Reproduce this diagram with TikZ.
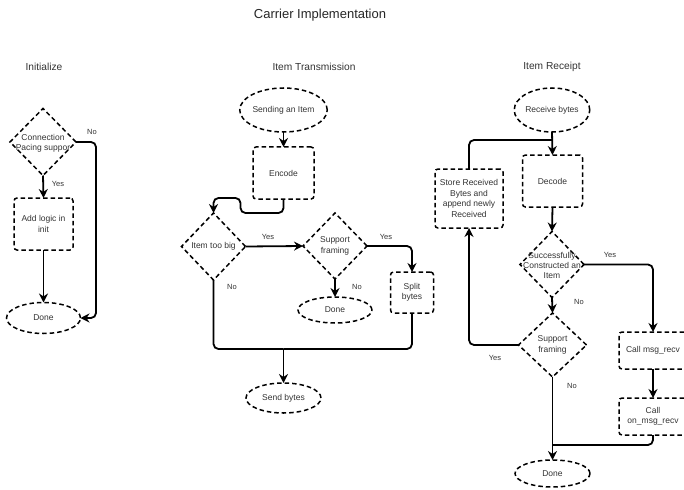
\documentclass[tikz,border=0pt]{standalone}
\usepackage{fontspec}
\setmainfont{Liberation Sans}
\usetikzlibrary{shapes.geometric,arrows.meta}
\definecolor{ink}{HTML}{333333}
\begin{document}
\begin{tikzpicture}[x=1pt,y=-1pt,
  every node/.style={inner sep=0pt,outer sep=0pt,text=ink,font=\fontsize{8.5}{10.4}\selectfont,align=center},
  dashline/.style={draw=black,line width=1.5pt,dash pattern=on 4.5pt off 3pt},
  boxn/.style={dashline,rectangle,rounded corners=3pt},
  ell/.style={dashline,ellipse},
  dia/.style={dashline,diamond,aspect=1},
  txt/.style={font=\fontsize{8.5}{10.4}\selectfont},
  lab/.style={font=\fontsize{7.5}{9}\selectfont},
  head/.style={font=\fontsize{10.2}{12}\selectfont},
  flow/.style={draw=black,line width=1.8pt,rounded corners=5pt},
  arr/.style={flow,-{Stealth[length=9pt,width=9pt,inset=3pt]}}
]
\useasboundingbox (0,0) rectangle (684,489);
\clip (0,0) rectangle (684,489);

% titles
\node[font=\fontsize{13}{15}\selectfont,text=black!85] (title) at (320,15) {Carrier Implementation};
\node[head] (hinit) at (44,67) {Initialize};
\node[head] (htx) at (314,67) {Item Transmission};
\node[head] (hrx) at (552,67) {Item Receipt};

% ---------- Initialize ----------
\node[dia,minimum width=66pt,minimum height=67pt] (initd) at (43,142) {};
\node[txt] (initdt) at (43,143.5) {Connection\\Pacing suppor};
\node[boxn,minimum width=59pt,minimum height=52pt] (initbox) at (43.5,224) {Add logic in\\init};
\node[ell,minimum width=74pt,minimum height=31pt] (initdone) at (43.5,318) {Done};

\draw[arr] (initd.south) -- (initbox.north);
\draw[arr] (initbox.south) -- (initdone.north);
\draw[arr] (initd.east) -- ++(20,0) |- (initdone.east);
\node[lab] (iyes) at (58,184) {Yes};
\node[lab] (ino) at (92,132) {No};

% ---------- Item Transmission ----------
\node[ell,minimum width=74pt,minimum height=44pt] (sende) at (283.5,110) {Sending an Item};
\node[boxn,minimum width=61pt,minimum height=52pt] (encode) at (283.5,173) {Encode};
\node[dia,minimum width=64pt,minimum height=67pt] (bigd) at (213.5,246.5) {};
\node[txt] (bigdt) at (213.5,246.5) {Item too big};
\node[dia,minimum width=64pt,minimum height=66pt] (sfd) at (335,246) {};
\node[txt] (sfdt) at (335,246) {Support\\framing};
\node[boxn,minimum width=43pt,minimum height=41pt] (split) at (412,292.5) {Split\\bytes};
\node[ell,minimum width=74pt,minimum height=26pt] (done2) at (335,310) {Done};
\node[ell,minimum width=75pt,minimum height=30pt] (sendb) at (283.5,398) {Send bytes};
\coordinate (m1) at (283.5,349);

\draw[arr] (sende.south) -- (encode.north);
\draw[arr] (encode.south) -- ++(0,14) -- ++(-43,0) -- ++(0,-15) -| (bigd.north);
\draw[arr] (bigd.east) -- (sfd.west);
\draw[arr] (sfd.east) -| (split.north);
\draw[arr] (sfd.south) -- (done2.north);
\draw[flow] (bigd.south) |- (m1);
\draw[flow] (split.south) |- (m1);
\draw[arr] (m1) -- (sendb.north);
\node[lab] (tyes1) at (268,237) {Yes};
\node[lab] (tyes2) at (386,237) {Yes};
\node[lab] (tno1) at (232,287) {No};
\node[lab] (tno2) at (357,287) {No};

% ---------- Item Receipt ----------
\node[ell,minimum width=74pt,minimum height=44pt] (recve) at (552,110) {Receive bytes};
\node[boxn,minimum width=60pt,minimum height=52pt] (decode) at (552.5,181) {Decode};
\node[boxn,minimum width=68pt,minimum height=59pt] (store) at (469,198.5) {Store Received\\Bytes and\\append newly\\Received};
\node[dia,minimum width=64pt,minimum height=66pt] (succd) at (552,264.5) {};
\node[txt] (succdt) at (552,265.5) {Successfully\\Constructed an\\Item};
\node[dia,minimum width=68pt,minimum height=64pt] (sf2d) at (552.5,345) {};
\node[txt] (sf2dt) at (552.5,345) {Support\\framing};
\node[boxn,minimum width=68pt,minimum height=37pt] (msg) at (653,350.5) {Call msg\_recv};
\node[boxn,minimum width=68pt,minimum height=37pt] (onmsg) at (653,416.5) {Call\\on\_msg\_recv};
\node[ell,minimum width=75pt,minimum height=27pt] (done3) at (552.5,473.5) {Done};
\coordinate (m2) at (552.5,140);
\coordinate (m3) at (552.5,445);

\draw[arr] (recve.south) -- (decode.north);
\draw[flow] (store.north) |- (m2);
\draw[arr] (decode.south) -- (succd.north);
\draw[arr] (succd.east) -| (msg.north);
\draw[arr] (succd.south) -- (sf2d.north);
\draw[arr] (sf2d.west) -| (store.south);
\draw[arr] (sf2d.south) -- (done3.north);
\draw[arr] (msg.south) -- (onmsg.north);
\draw[flow] (onmsg.south) |- (m3);
\node[lab] (ryes1) at (610,255) {Yes};
\node[lab] (rno1) at (579,302) {No};
\node[lab] (ryes2) at (495,358) {Yes};
\node[lab] (rno2) at (572,386) {No};
\end{tikzpicture}
\end{document}
